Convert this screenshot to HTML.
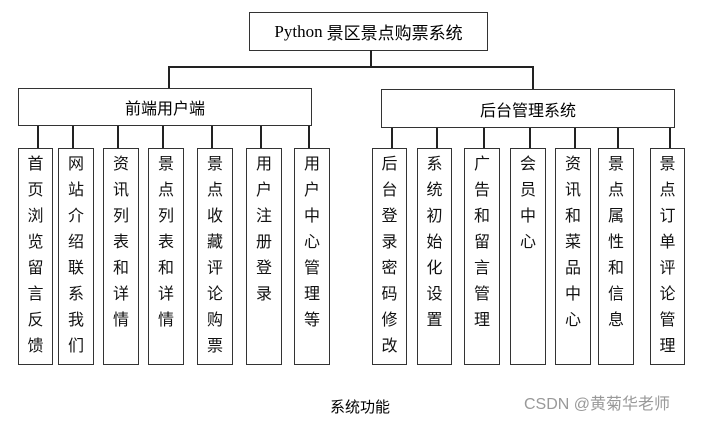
<!DOCTYPE html><html><head><meta charset="utf-8"><style>
body{margin:0;width:708px;height:421px;background:#fff;position:relative;overflow:hidden;font-family:"Liberation Serif","Noto Sans CJK SC",serif;}
.b{position:absolute;border:1px solid #333;box-sizing:border-box;background:#fff;}
.h{position:absolute;background:#222;height:2px}
.v{position:absolute;background:#222;width:2px}
.c{position:absolute;top:148px;height:217px;border:1px solid #333;box-sizing:border-box;text-align:center;font-family:"Noto Sans CJK SC",sans-serif;font-size:16px;line-height:26px;padding-top:0px;color:#111}
.t{display:flex;align-items:center;justify-content:center;font-family:"Liberation Serif","Noto Sans CJK SC",serif;font-size:17px;}
</style></head><body>
<div class="b t" style="left:249px;top:12px;width:239px;height:39px;">Python <span style="font-family:'Noto Sans CJK SC',sans-serif;margin-left:4px">景区景点购票系统</span></div>
<div class="v" style="left:370px;top:50px;height:18px"></div>
<div class="h" style="left:168px;top:66px;width:366px"></div>
<div class="v" style="left:168px;top:66px;height:23px"></div>
<div class="v" style="left:532px;top:66px;height:23px"></div>
<div class="b t" style="left:18px;top:88px;width:294px;height:38px;font-family:'Noto Sans CJK SC',sans-serif;font-size:16px">前端用户端</div>
<div class="b t" style="left:381px;top:89px;width:294px;height:39px;font-family:'Noto Sans CJK SC',sans-serif;font-size:16px">后台管理系统</div>
<div class="v" style="left:37px;top:126px;height:22px"></div>
<div class="v" style="left:72px;top:126px;height:22px"></div>
<div class="v" style="left:117px;top:126px;height:22px"></div>
<div class="v" style="left:162px;top:126px;height:22px"></div>
<div class="v" style="left:211px;top:126px;height:22px"></div>
<div class="v" style="left:260px;top:126px;height:22px"></div>
<div class="v" style="left:308px;top:126px;height:22px"></div>
<div class="v" style="left:391px;top:128px;height:20px"></div>
<div class="v" style="left:436px;top:128px;height:20px"></div>
<div class="v" style="left:483px;top:128px;height:20px"></div>
<div class="v" style="left:529px;top:128px;height:20px"></div>
<div class="v" style="left:574px;top:128px;height:20px"></div>
<div class="v" style="left:617px;top:128px;height:20px"></div>
<div class="v" style="left:669px;top:128px;height:20px"></div>
<div class="c" style="left:18px;width:35px">首<br>页<br>浏<br>览<br>留<br>言<br>反<br>馈</div>
<div class="c" style="left:58px;width:36px">网<br>站<br>介<br>绍<br>联<br>系<br>我<br>们</div>
<div class="c" style="left:103px;width:36px">资<br>讯<br>列<br>表<br>和<br>详<br>情</div>
<div class="c" style="left:148px;width:36px">景<br>点<br>列<br>表<br>和<br>详<br>情</div>
<div class="c" style="left:197px;width:36px">景<br>点<br>收<br>藏<br>评<br>论<br>购<br>票</div>
<div class="c" style="left:246px;width:36px">用<br>户<br>注<br>册<br>登<br>录</div>
<div class="c" style="left:294px;width:36px">用<br>户<br>中<br>心<br>管<br>理<br>等</div>
<div class="c" style="left:372px;width:35px">后<br>台<br>登<br>录<br>密<br>码<br>修<br>改</div>
<div class="c" style="left:417px;width:35px">系<br>统<br>初<br>始<br>化<br>设<br>置</div>
<div class="c" style="left:464px;width:36px">广<br>告<br>和<br>留<br>言<br>管<br>理</div>
<div class="c" style="left:510px;width:36px">会<br>员<br>中<br>心</div>
<div class="c" style="left:555px;width:36px">资<br>讯<br>和<br>菜<br>品<br>中<br>心</div>
<div class="c" style="left:598px;width:36px">景<br>点<br>属<br>性<br>和<br>信<br>息</div>
<div class="c" style="left:650px;width:35px">景<br>点<br>订<br>单<br>评<br>论<br>管<br>理</div>
<div style="position:absolute;left:330px;top:396px;font-family:'Noto Sans CJK SC',sans-serif;font-size:15px">系统功能</div>
<div style="position:absolute;left:524px;top:390px;font-family:'Liberation Sans','Noto Sans CJK SC',sans-serif;font-size:16px;color:#999">CSDN @黄菊华老师</div>
</body></html>
